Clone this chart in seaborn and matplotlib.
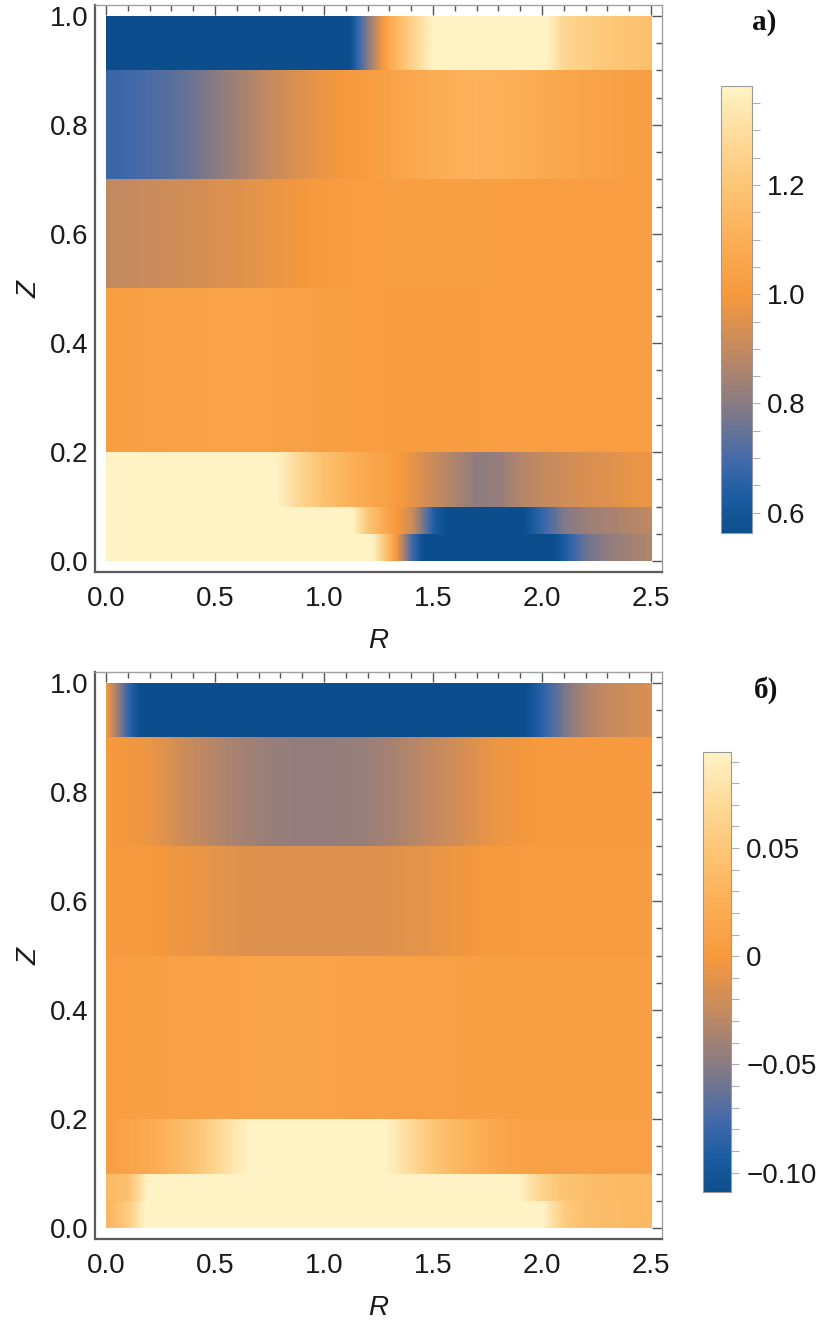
import numpy as np
import matplotlib
matplotlib.use("Agg")
import matplotlib.pyplot as plt
import seaborn as sns
from matplotlib.colors import LinearSegmentedColormap, Normalize
from matplotlib.patches import Rectangle
from matplotlib.cm import ScalarMappable

# ---------------- data ----------------
R_GRID = [0.0, 0.1, 0.2, 0.3, 0.4, 0.5, 0.6, 0.7, 0.8, 0.9, 1.0, 1.1, 1.2,
          1.3, 1.4, 1.5, 1.6, 1.7, 1.8, 1.9, 2.0, 2.1, 2.2, 2.3, 2.4, 2.5]
Z_EDGES = [0.0, 0.05, 0.1, 0.2, 0.5, 0.7, 0.9, 1.0]

# panel a) : one list per Z band (bottom -> top), values at R_GRID
A_Z000_005 = [1.45, 1.45, 1.45, 1.45, 1.45, 1.45, 1.45, 1.45, 1.45, 1.45, 1.45, 1.45, 1.45,
              1.12, 0.70, 0.45, 0.40, 0.40, 0.40, 0.40, 0.50, 0.63, 0.76, 0.81, 0.84, 0.87]
A_Z005_010 = [1.45, 1.45, 1.45, 1.45, 1.45, 1.45, 1.45, 1.45, 1.45, 1.45, 1.45, 1.45, 1.20,
              1.04, 0.92, 0.64, 0.50, 0.45, 0.48, 0.55, 0.68, 0.79, 0.83, 0.85, 0.87, 0.89]
A_Z010_020 = [1.45, 1.45, 1.45, 1.45, 1.45, 1.45, 1.45, 1.45, 1.36, 1.26, 1.18, 1.12, 1.07,
              1.03, 0.97, 0.91, 0.86, 0.81, 0.82, 0.87, 0.90, 0.92, 0.94, 0.95, 0.97, 0.98]
A_Z020_050 = [1.03, 1.03, 1.035, 1.04, 1.04, 1.045, 1.045, 1.045, 1.04, 1.035, 1.03, 1.025, 1.02,
              1.02, 1.015, 1.015, 1.015, 1.02, 1.02, 1.02, 1.02, 1.02, 1.02, 1.02, 1.02, 1.02]
A_Z050_070 = [0.90, 0.90, 0.91, 0.92, 0.93, 0.94, 0.95, 0.965, 0.98, 0.995, 1.01, 1.02, 1.02,
              1.025, 1.03, 1.03, 1.03, 1.03, 1.025, 1.02, 1.02, 1.02, 1.02, 1.02, 1.02, 1.02]
A_Z070_090 = [0.68, 0.69, 0.71, 0.73, 0.76, 0.80, 0.84, 0.88, 0.92, 0.95, 0.98, 1.00, 1.02,
              1.04, 1.07, 1.09, 1.11, 1.12, 1.11, 1.10, 1.08, 1.06, 1.05, 1.04, 1.03, 1.02]
A_Z090_100 = [0.50, 0.50, 0.50, 0.50, 0.50, 0.50, 0.50, 0.50, 0.50, 0.50, 0.50, 0.52, 0.80,
              1.08, 1.25, 1.38, 1.42, 1.42, 1.42, 1.42, 1.40, 1.27, 1.23, 1.21, 1.19, 1.17]

# panel б) : one list per Z band (bottom -> top), values at R_GRID
B_Z000_005 = [0.030, 0.055, 0.105, 0.105, 0.105, 0.105, 0.105, 0.105, 0.105, 0.105, 0.105, 0.105, 0.105,
              0.105, 0.105, 0.105, 0.105, 0.105, 0.105, 0.105, 0.095, 0.055, 0.043, 0.040, 0.037, 0.035]
B_Z005_010 = [0.035, 0.042, 0.100, 0.105, 0.105, 0.105, 0.105, 0.105, 0.105, 0.105, 0.105, 0.105, 0.105,
              0.105, 0.105, 0.105, 0.105, 0.105, 0.105, 0.092, 0.062, 0.047, 0.042, 0.039, 0.037, 0.035]
B_Z010_020 = [0.006, 0.012, 0.020, 0.032, 0.045, 0.065, 0.085, 0.100, 0.105, 0.105, 0.105, 0.105, 0.105,
              0.090, 0.070, 0.050, 0.035, 0.025, 0.015, 0.010, 0.008, 0.008, 0.008, 0.008, 0.008, 0.008]
B_Z020_050 = [0.005, 0.006, 0.007, 0.008, 0.009, 0.010, 0.010, 0.011, 0.011, 0.011, 0.011, 0.010, 0.010,
              0.009, 0.009, 0.008, 0.008, 0.007, 0.007, 0.007, 0.007, 0.007, 0.007, 0.007, 0.006, 0.006]
B_Z050_070 = [0.003, 0.002, 0.000, -0.003, -0.006, -0.009, -0.012, -0.013, -0.013, -0.013, -0.013, -0.013, -0.013,
              -0.012, -0.011, -0.008, -0.004, -0.001, 0.002, 0.003, 0.004, 0.004, 0.004, 0.004, 0.004, 0.004]
B_Z070_090 = [0.000, -0.002, -0.006, -0.015, -0.025, -0.032, -0.038, -0.042, -0.045, -0.046, -0.046, -0.045, -0.043,
              -0.038, -0.032, -0.026, -0.020, -0.012, -0.005, -0.002, 0.000, 0.002, 0.002, 0.002, 0.002, 0.002]
B_Z090_100 = [0.000, -0.080, -0.130, -0.130, -0.130, -0.130, -0.130, -0.130, -0.130, -0.130, -0.130, -0.130, -0.130,
              -0.130, -0.130, -0.130, -0.130, -0.130, -0.130, -0.115, -0.085, -0.055, -0.035, -0.025, -0.020, -0.015]

A_BANDS = [A_Z000_005, A_Z005_010, A_Z010_020, A_Z020_050, A_Z050_070, A_Z070_090, A_Z090_100]
B_BANDS = [B_Z000_005, B_Z005_010, B_Z010_020, B_Z020_050, B_Z050_070, B_Z070_090, B_Z090_100]

A_RANGE = (0.563, 1.381)
B_RANGE = (-0.109, 0.0944)

X_TICKS = [0.0, 0.5, 1.0, 1.5, 2.0, 2.5]
X_TICK_LABELS = ["0.0", "0.5", "1.0", "1.5", "2.0", "2.5"]
Y_TICKS = [0.0, 0.2, 0.4, 0.6, 0.8, 1.0]
Y_TICK_LABELS = ["0.0", "0.2", "0.4", "0.6", "0.8", "1.0"]

A_CB_TICKS = [0.6, 0.8, 1.0, 1.2]
A_CB_LABELS = ["0.6", "0.8", "1.0", "1.2"]
B_CB_TICKS = [-0.10, -0.05, 0.0, 0.05]
B_CB_LABELS = ["\u22120.10", "\u22120.05", "0", "0.05"]

# ---------------- style ----------------
sns.set_theme(style="white")
plt.rcParams['font.family'] = ['Liberation Sans', 'DejaVu Sans']

CMAP = LinearSegmentedColormap.from_list("m10density", [
    (0.00, "#0C4E8D"),
    (0.08, "#1C5CA2"),
    (0.16, "#4169AA"),
    (0.29, "#897B82"),
    (0.41, "#C48A60"),
    (0.535, "#F7993D"),
    (0.66, "#FCAF57"),
    (0.78, "#FDC676"),
    (0.90, "#FEDD9E"),
    (1.00, "#FFF3C6"),
])

fig = plt.figure(figsize=(8.38, 13.22), dpi=100)
W, H = 838.0, 1322.0
OVERLAP = 0.004  # small vertical overlap so neighbouring bands leave no seam


def px_rect(x0, y0, x1, y1):
    return [x0 / W, 1 - y1 / H, (x1 - x0) / W, (y1 - y0) / H]


def draw_panel(top, bands, vrange, cb_rect, cb_ticks, cb_labels, cb_minor, tag, tag_pos):
    ax = fig.add_axes(px_rect(95, top, 662, top + 567))
    norm = Normalize(vmin=vrange[0], vmax=vrange[1])
    r = np.asarray(R_GRID)
    dr = r[1] - r[0]
    for i, (z0, z1, vals) in enumerate(zip(Z_EDGES[:-1], Z_EDGES[1:], bands)):
        ztop = z1 + (OVERLAP if i < len(bands) - 1 else 0.0)
        im = ax.imshow(np.asarray(vals)[None, :], cmap=CMAP, norm=norm,
                       extent=(r[0] - dr / 2, r[-1] + dr / 2, z0, ztop),
                       origin="lower", aspect="auto",
                       interpolation="bilinear", interpolation_stage="data",
                       zorder=1 + i * 0.01)
        im.set_clip_path(Rectangle((r[0], z0), r[-1] - r[0], ztop - z0,
                                   transform=ax.transData))
    ax.set_xlim(-0.05, 2.55)
    ax.set_ylim(-0.02, 1.02)
    ax.set_facecolor("white")

    ax.set_xticks(X_TICKS, labels=X_TICK_LABELS)
    ax.set_yticks(Y_TICKS, labels=Y_TICK_LABELS)
    ax.set_xticks(np.arange(0, 2.51, 0.1), minor=True)
    ax.set_yticks(np.arange(0, 1.001, 0.05), minor=True)
    ax.tick_params(which="both", direction="in", top=True, right=True,
                   color="#555555", width=1.0)
    ax.tick_params(which="major", length=7, labelsize=20, labelcolor="#1a1a1a")
    ax.tick_params(which="minor", length=4)
    ax.tick_params(axis="x", which="major", pad=10)
    ax.tick_params(axis="y", which="major", pad=5)
    for s in ("left", "bottom"):
        ax.spines[s].set_color("#5a5a5a")
        ax.spines[s].set_linewidth(1.6)
    for s in ("top", "right"):
        ax.spines[s].set_color("#a0a0a0")
        ax.spines[s].set_linewidth(1.0)

    ax.set_xlabel("R", fontsize=20, style="italic", color="#1a1a1a")
    ax.xaxis.set_label_coords(0.499, -0.122)
    ax.xaxis.label.set_va("center")
    ax.set_ylabel("Z", fontsize=20, style="italic", color="#1a1a1a")
    ax.yaxis.set_label_coords(-0.115, 0.499)
    ax.yaxis.label.set_va("center")

    cax = fig.add_axes(px_rect(*cb_rect))
    cb = fig.colorbar(ScalarMappable(norm=norm, cmap=CMAP), cax=cax)
    cb.set_ticks(cb_ticks, labels=cb_labels)
    cb.ax.set_yticks(cb_minor, minor=True)
    cb.ax.tick_params(which="both", direction="out", length=6, width=0.8,
                      color="#b0b0b0", labelsize=20, labelcolor="#1a1a1a", pad=5)
    cb.outline.set_edgecolor("#9a9a9a")
    cb.outline.set_linewidth(0.8)

    fig.text(tag_pos[0] / W, 1 - tag_pos[1] / H, tag, fontsize=21, fontweight="bold",
             family=["Liberation Serif", "DejaVu Serif"], ha="left", va="center",
             color="#111111")


draw_panel(5, A_BANDS, A_RANGE, (721, 86, 752, 533), A_CB_TICKS, A_CB_LABELS,
           np.arange(0.6, 1.381, 0.05), "a)", (752, 22))
draw_panel(672, B_BANDS, B_RANGE, (703, 752, 731, 1192), B_CB_TICKS, B_CB_LABELS,
           np.arange(-0.10, 0.0944, 0.01), "\u0431)", (754, 690))

fig.savefig("out.png", dpi=100, facecolor="white")
